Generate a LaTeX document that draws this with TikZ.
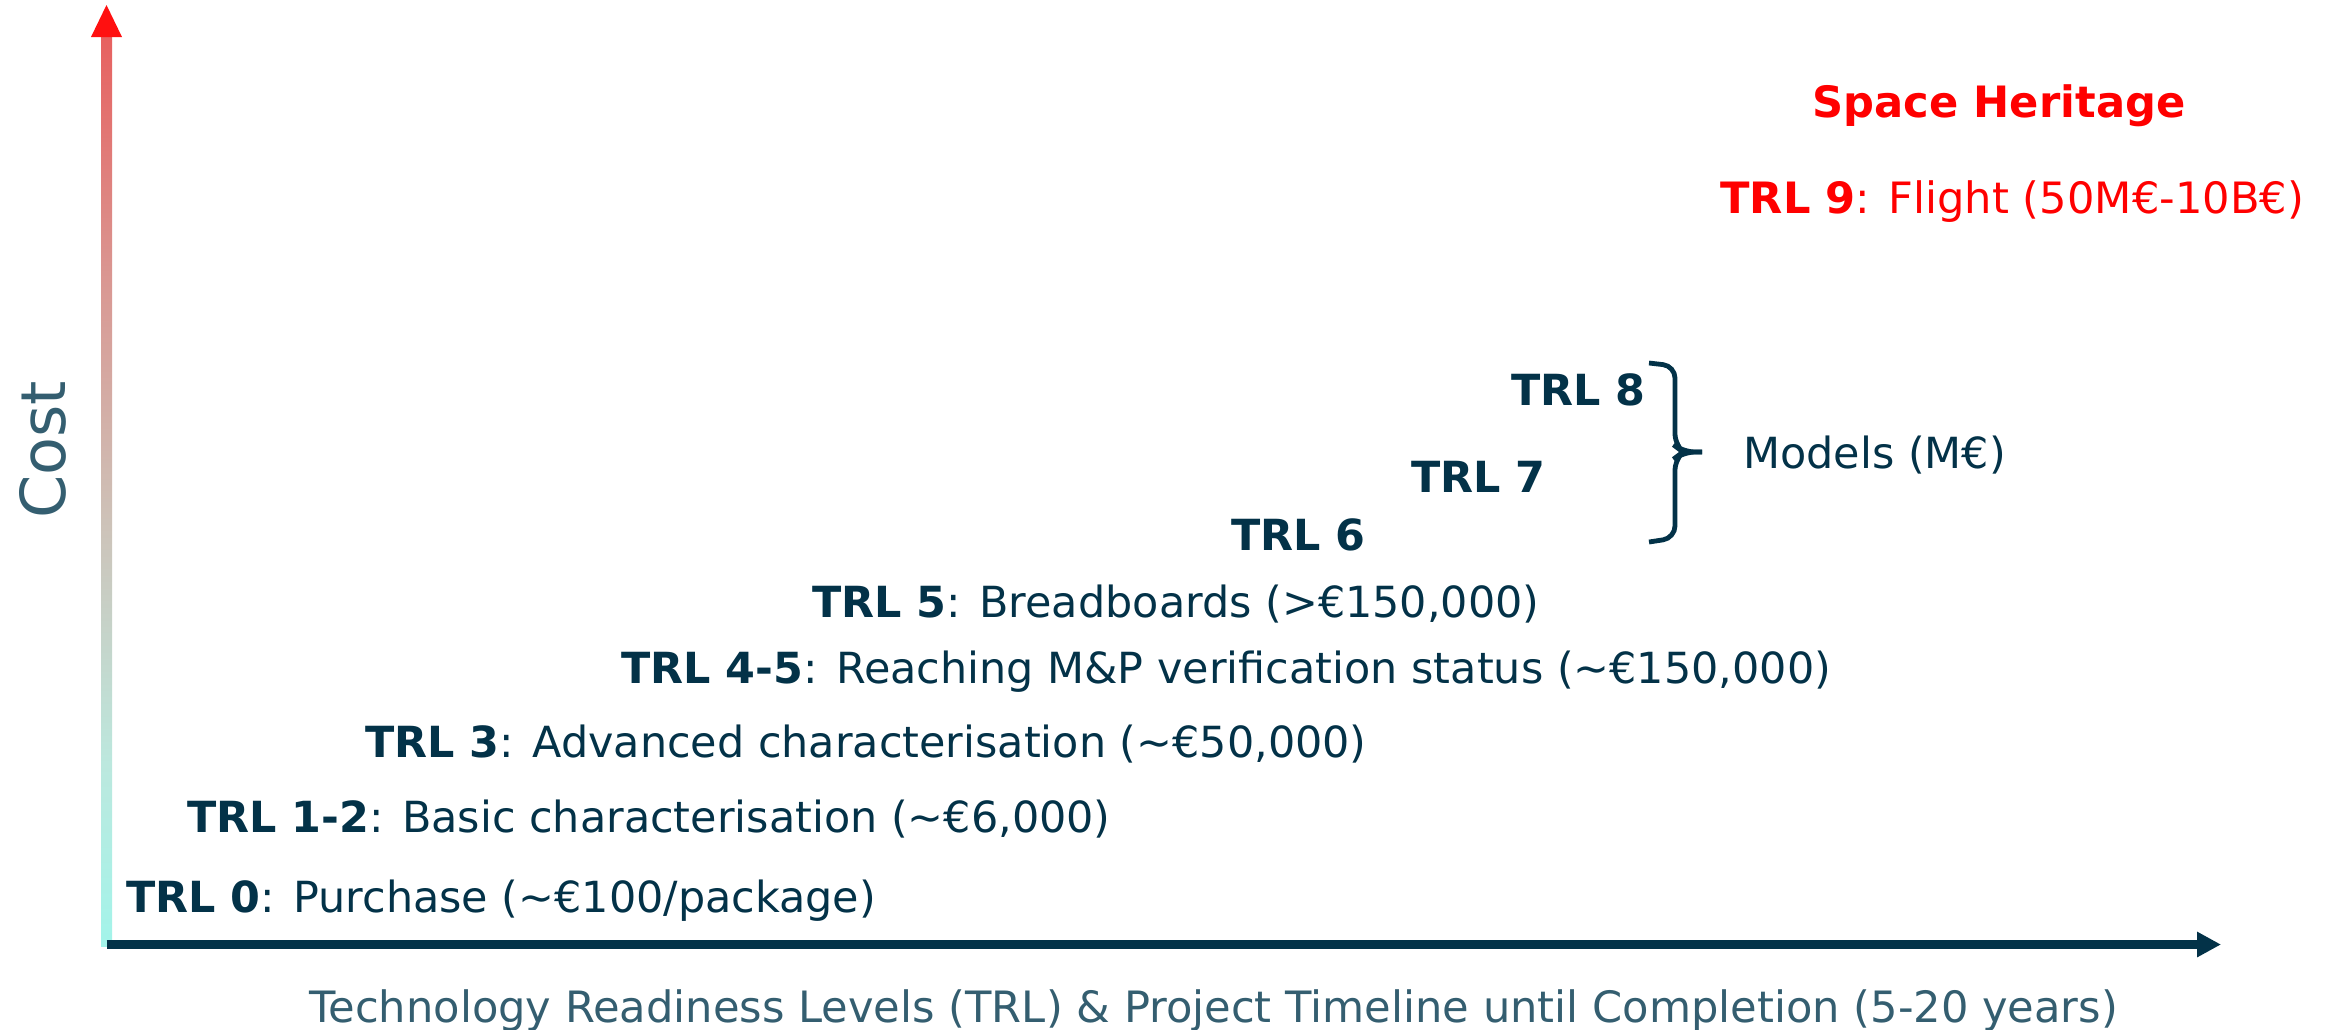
\documentclass[tikz,border=0pt]{standalone}
\usepackage{fontspec}
\setmainfont{DejaVu Sans}
\usetikzlibrary{arrows.meta}
\definecolor{navy}{RGB}{3,50,72}
\definecolor{labelc}{RGB}{52,94,112}
\definecolor{redt}{RGB}{255,0,0}
\definecolor{redc}{RGB}{255,16,16}
\definecolor{cA}{RGB}{236,76,76}
\definecolor{cB}{RGB}{218,150,145}
\definecolor{cC}{RGB}{205,195,185}
\definecolor{cD}{RGB}{188,232,222}
\definecolor{cE}{RGB}{150,250,240}
\definecolor{cyanc}{RGB}{128,255,248}
\pgfdeclareverticalshading{costshade}{100bp}{color(0bp)=(cyanc); color(20bp)=(cE); color(35bp)=(cD); color(48bp)=(cC); color(62bp)=(cB); color(80bp)=(cA); color(100bp)=(redc)}
\begin{document}
\begin{tikzpicture}[x=0.5pt,y=-0.5pt,
  txt/.style={inner sep=0pt, anchor=base west, font=\fontsize{21.45}{25}\selectfont, text=navy},
  redtxt/.style={txt, text=redt, font=\fontsize{21.6}{25}\selectfont},
  axislabel/.style={inner sep=0pt, anchor=base west, text=labelc},
  xaxis/.style={draw=navy, line width=4.5pt, -{Triangle[length=12pt,width=12pt]}},
  bracket/.style={draw=navy, line width=2.4pt, rounded corners=6pt}]
\useasboundingbox (0,0) rectangle (2333,1029);
% axes
\coordinate (origin) at (106.5,944.5);
\coordinate (ytip) at (106.5,5);
\coordinate (xtip) at (2221,944.5);
\shade[shading=costshade] (101,946) rectangle (112,36);
\fill[redc] (ytip) -- (91,37) -- (122,37) -- cycle;
\draw[xaxis] (origin) -- (xtip);
% axis labels
\node[axislabel, font=\fontsize{31}{36}\selectfont, rotate=90] (cost) at (65,519) {Cost};
\node[axislabel, font=\fontsize{21.6}{25}\selectfont] (xlabel) at (309,1022) {Technology Readiness Levels (TRL) \& Project Timeline until Completion (5-20 years)};
% TRL levels
\node[txt] (t0) at (126,912) {\textbf{TRL 0}: Purchase (\textasciitilde€100/package)};
\node[txt] (t12) at (187,832) {\textbf{TRL 1-2}: Basic characterisation (\textasciitilde€6,000)};
\node[txt] (t3) at (365,757) {\textbf{TRL 3}: Advanced characterisation (\textasciitilde€50,000)};
\node[txt] (t45) at (621,683) {\textbf{TRL 4-5}: Reaching M\&P verification status (\textasciitilde€150,000)};
\node[txt] (t5) at (812,617) {\textbf{TRL 5}: Breadboards (>€150,000)};
\node[txt] (t6) at (1231,550) {\textbf{TRL 6}};
\node[txt] (t7) at (1411,492) {\textbf{TRL 7}};
\node[txt] (t8) at (1511,405) {\textbf{TRL 8}};
\node[txt] (models) at (1743,468) {Models (M€)};
\node[redtxt] (t9) at (1720,213) {\textbf{TRL 9}: Flight (50M€-10B€)};
\node[redtxt, anchor=base] (heritage) at (1999,117) {\textbf{Space Heritage}};
% bracket
\coordinate (brtop) at (1649,363);
\coordinate (brbot) at (1649,542);
\coordinate (brtip) at (1702,452);
\draw[bracket] (brtop) -- (1675,366) -- (1675,446) -- (1683,452) -- (brtip);
\draw[bracket] (brtip) -- (1683,452) -- (1675,458) -- (1675,538) -- (brbot);
\end{tikzpicture}
\end{document}
